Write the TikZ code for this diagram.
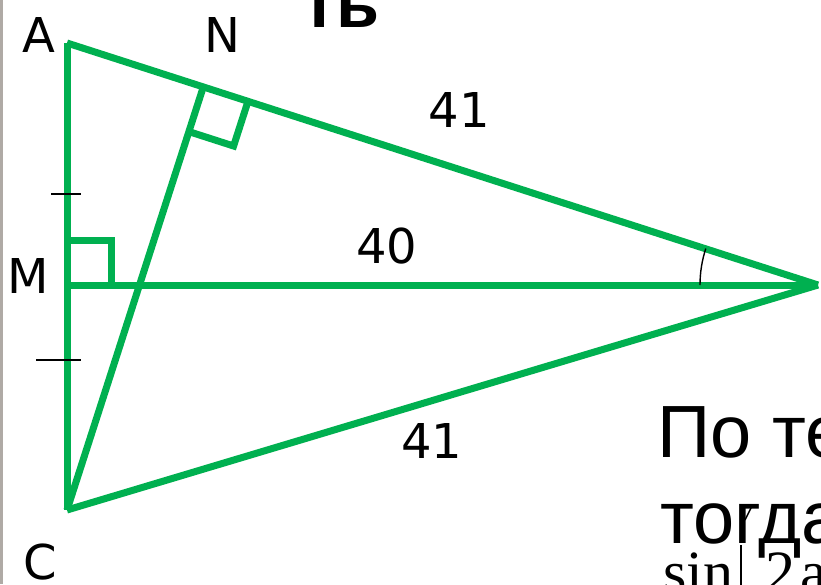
\documentclass[tikz,border=0pt]{standalone}
\usepackage{fontspec}
\setmainfont{DejaVu Sans}
\newfontfamily\labfont{DejaVu Sans}
\newfontfamily\txtfont{Liberation Sans}
\newfontfamily\serfont{Liberation Serif}
\definecolor{geo}{HTML}{00B050}
\definecolor{frame}{RGB}{175,170,165}
\begin{document}
\begin{tikzpicture}[x=1pt,y=-1pt,
  edge/.style={draw=geo,line width=7pt},
  tickmark/.style={draw=black,line width=1.6pt},
  lbl/.style={font=\labfont\fontsize{48}{48}\selectfont,inner sep=0pt,anchor=base},
  bigtxt/.style={font=\txtfont\fontsize{74}{74}\selectfont,inner sep=0pt,anchor=base west},
  sertxt/.style={font=\serfont\fontsize{60}{60}\selectfont,inner sep=0pt,anchor=base west}]
\useasboundingbox (0,0) rectangle (821,584);
\clip (0,0) rectangle (821,584);
\fill[white] (0,0) rectangle (821,584);
\fill[frame] (0,0) rectangle (2.5,584);

% vertices
\coordinate (A) at (67,43);
\coordinate (M) at (67,285);
\coordinate (C) at (67,510);
\coordinate (B) at (818,285);
\coordinate (N) at (203.3,86.9);

% triangle and segments
\draw[edge] (A) -- (C);
\draw[edge] (A) -- (B);
\draw[edge] (M) -- (B);
\draw[edge] (C) -- (B);
\draw[edge] (C) -- (N);

% right angle marks
\draw[edge] (67,240) -- (111,240) -- (111,285);
\draw[edge] (248,101.3) -- (233.6,146) -- (188.9,131.6);

% equal-segment ticks
\coordinate (t1a) at (51,194); \coordinate (t1b) at (81,194);
\coordinate (t2a) at (36,360); \coordinate (t2b) at (81,360);
\draw[tickmark] (t1a) -- (t1b);
\draw[tickmark] (t2a) -- (t2b);

% angle at B
\coordinate (arcS) at (700,285);
\draw[tickmark,line width=1.4pt] (arcS) arc[start angle=180,end angle=198,radius=118];

% vertex labels
\node[lbl] (lA) at (39,52) {A};
\node[lbl] (lN) at (222.5,52) {N};
\node[lbl] (lM) at (28.5,293) {M};
\node[lbl] (lC) at (40,579) {C};

% lengths
\node[lbl] (l41a) at (459.5,127) {41};
\node[lbl] (l40) at (387,263) {40};
\node[lbl] (l41b) at (432,458) {41};

% cut-off slide text
\node[bigtxt,font=\txtfont\bfseries\fontsize{70}{70}\selectfont] (tt) at (302,27) {ть};
\node[bigtxt] (po) at (657,457) {По те};
\node[bigtxt] (togda) at (660,543) {тогда};
\node[sertxt] (sin) at (663,592) {sin};
\node[sertxt] (two) at (765,592) {2};
\node[sertxt] (alpha) at (800,592) {a};
\draw[black,line width=1.5pt] (741,600) -- (741,545);
\draw[black,line width=1.5pt] (745,520) -- (752,506);
\end{tikzpicture}
\end{document}
